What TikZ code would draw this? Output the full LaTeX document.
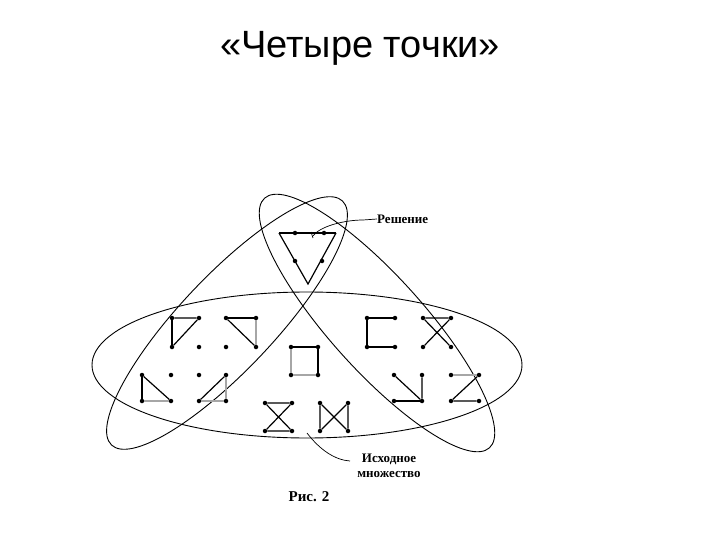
\documentclass[tikz,border=0pt]{standalone}
\usepackage{fontspec}
\setmainfont{Liberation Serif}
\newfontfamily\titlefont{Liberation Sans}
\begin{document}
\begin{tikzpicture}[x=1pt,y=-1pt,
  curve/.style={line width=0.9pt},
  seg/.style={line width=1.2pt},
  gseg/.style={line width=1.2pt,gray!70},
  dot/.style={circle,fill,inner sep=0pt,minimum size=4.5pt},
  lbl/.style={font=\bfseries\fontsize{13}{15}\selectfont,align=center,inner sep=0pt}]
\useasboundingbox (0,0) rectangle (720,540);
\node[font=\titlefont\fontsize{38}{44}\selectfont] (title) at (360,48) {«Четыре точки»};
% ellipses
\draw[curve] (307,365) ellipse [x radius=215, y radius=73];
\draw[curve] (227,323) ellipse [x radius=168, y radius=47, rotate=46.6];
\draw[curve] (377,323) ellipse [x radius=168, y radius=47, rotate=-48];
% triangle
\node[dot] (t1) at (295,233) {}; \node[dot] (t2) at (324,233) {};
\node[dot] (t3) at (295,261) {}; \node[dot] (t4) at (322,261) {};
\coordinate (ta) at (279,233); \coordinate (tb) at (336,233); \coordinate (tc) at (308,284);
\draw[line width=1.8pt] (ta) -- (tb);
\draw[seg] (ta) -- (tc) -- (tb);
% leaders
\node[lbl,anchor=west] (sol) at (377,219) {Решение};
\coordinate (s0) at (313,238);
\draw[line width=0.7pt] (313,236) .. controls (320,226) and (345,220) .. (363,220) -- (sol.west);
\draw[line width=0.7pt] (311,232) -- (s0);
\node[lbl] (src) at (389,466) {Исходное\\множество};
\coordinate (b0) at (307,433);
\draw[line width=0.7pt] (b0) .. controls (320,450) and (335,460) .. (350,461);
\node[font=\bfseries\fontsize{15}{17}\selectfont] (fig) at (309,497) {Рис. 2};
% figure groups
\foreach \x/\y [count=\i] in {172/318,199/318,226/318,256/318,172/347,199/347,226/347,256/347,
  142/375,171/375,199/375,226/375,142/401,171/401,199/401,226/401,
  291/347,318/347,291/375,318/375,265/403,292/403,265/431,292/431,320/403,348/403,320/431,348/431,
  367/318,395/318,367/347,395/347,423/318,451/318,423/347,451/347,
  394/375,422/375,394/401,422/401,451/375,479/375,451/401,479/401}
  \node[dot] (d\i) at (\x,\y) {};
% fig 1
\draw[seg] (d1) -- (d2) -- (d5); \draw[line width=1.8pt] (d1) -- (d5);
% fig 2
\draw[seg] (d3) -- (d4); \draw[seg] (d3) -- (d8); \draw[gseg] (d4) -- (d8);
% fig 3
\draw[seg] (d9) -- (d13); \draw[seg] (d9) -- (d14); \draw[gseg] (d13) -- (d14);
% fig 4
\draw[gseg] (d12) -- (d16); \draw[seg] (d12) -- (d15); \draw[gseg] (d15) -- (d16);
% square
\draw[seg] (d17) -- (d18) -- (d20); \draw[gseg] (d17) -- (d19) -- (d20);
% hourglass
\draw[seg] (d21) -- (d22) -- (d23) -- (d24) -- (d21);
% bowtie
\draw[seg] (d25) -- (d27) -- (d26) -- (d28) -- (d25);
% C
\draw[seg] (d30) -- (d29) -- (d31) -- (d32);
% X
\draw[seg] (d35) -- (d34) -- (d33) -- (d36);
% reversed angle
\draw[seg] (d37) -- (d40) -- (d38); \draw[seg] (d39) -- (d40);
% Z
\draw[gseg] (d41) -- (d42); \draw[seg] (d42) -- (d43) -- (d44);
\end{tikzpicture}
\end{document}
